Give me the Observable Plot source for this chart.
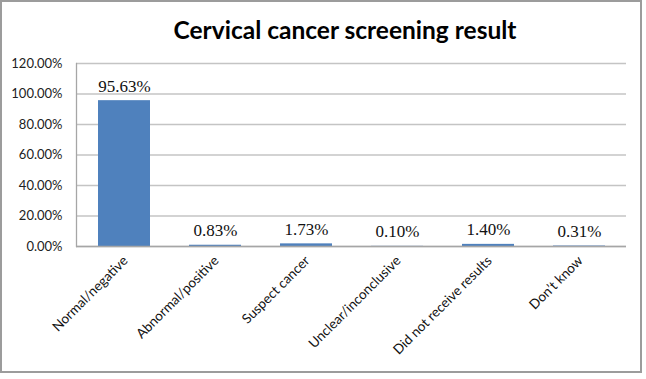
<!DOCTYPE html>
<html>
<head>
<meta charset="utf-8">
<script src="https://cdn.jsdelivr.net/npm/d3@7"></script>
<script src="https://cdn.jsdelivr.net/npm/@observablehq/plot@0.6"></script>
<style>
  html, body { margin: 0; padding: 0; background: #fff; }
  #wrap { position: relative; width: 646px; height: 379px; overflow: hidden; }
  #border {
    position: absolute; left: 0; top: 0; width: 638px; height: 369px;
    border: 2px solid #9c9c9c; pointer-events: none;
  }
  #title {
    position: absolute; left: 0; top: 5px; width: 690px; height: 50px;
    text-align: center; font-family: Lato, sans-serif; font-weight: bold;
    font-size: 24.5px; line-height: 50px; color: #000;
  }
  #chart { position: absolute; left: 0; top: 50px; }
</style>
</head>
<body>
<div id="wrap">
  <div id="title">Cervical cancer screening result</div>
  <div id="chart"></div>
  <div id="border"></div>
</div>
<script>
// Screening outcome categories and their share of respondents (%)
const categories = [
  "Normal/negative",
  "Abnormal/positive",
  "Suspect cancer",
  "Unclear/inconclusive",
  "Did not receive results",
  "Don’t know"
];
const shares = [95.63, 0.83, 1.73, 0.10, 1.40, 0.31];
const yTicks = [0, 20, 40, 60, 80, 100, 120];

const rows = categories.map((c, i) => ({category: c, share: shares[i]}));
const pct = d => d.toFixed(2) + "%";

const chart = Plot.plot({
  width: 646,
  height: 329,
  marginLeft: 76,
  marginRight: 20,
  marginTop: 13,
  marginBottom: 133,
  x: {domain: categories, padding: 0.43, paddingOuter: 0.215, axis: null},
  y: {domain: [0, 120], ticks: yTicks, axis: null},
  marks: [
    Plot.gridY(yTicks, {stroke: "#c4c4c4", strokeOpacity: 1, strokeWidth: 1.3}),
    Plot.axisY(yTicks, {
      label: null, tickSize: 0, tickPadding: 14, tickFormat: pct,
      fontSize: 13, fontFamily: "Lato, sans-serif", fill: "#222"
    }),
    Plot.barY(rows, {x: "category", y: "share", fill: "#4f81bd"}),
    Plot.ruleY([0], {stroke: "#a6a6a6", strokeWidth: 1.5}),
    Plot.frame({anchor: "left", stroke: "#a6a6a6", strokeWidth: 1.3}),
    Plot.text(rows, {
      x: "category", y: "share", text: d => pct(d.share),
      dy: -9, lineAnchor: "bottom",
      fontFamily: "'Liberation Serif', 'Times New Roman', serif",
      fontSize: 17, fill: "#111"
    }),
    Plot.text(rows, {
      x: "category", text: "category", frameAnchor: "bottom",
      rotate: -45, textAnchor: "end", lineAnchor: "middle",
      dy: 12, dx: 1,
      fontFamily: "Lato, sans-serif", fontSize: 13.5, fill: "#111"
    })
  ]
});
document.getElementById("chart").appendChild(chart);
</script>
</body>
</html>
